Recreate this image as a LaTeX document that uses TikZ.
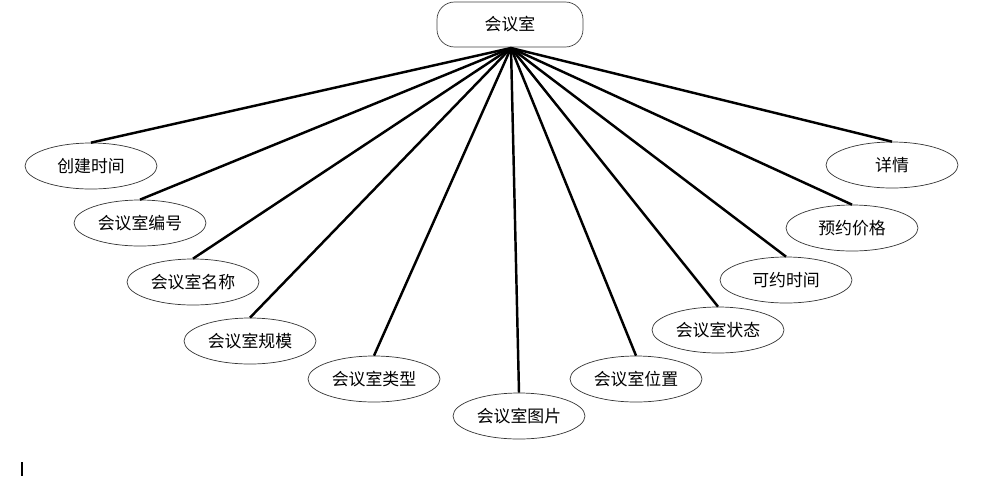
\documentclass[tikz,border=0pt]{standalone}
\usepackage{fontspec}
\newfontfamily\cjk{Noto Sans CJK SC}
\usepackage{tikz}
\usetikzlibrary{shapes.geometric, arrows.meta, positioning, fit, calc}

\begin{document}
\begin{tikzpicture}[
    x=0.02cm, y=-0.02cm,
    entity/.style={draw=black!75, rounded corners=10pt, minimum width=146*0.02cm,
                   minimum height=45*0.02cm, align=center, font=\cjk\fontsize{9.6}{11}\selectfont},
    attr/.style={draw=black!80, ellipse, inner sep=0pt, minimum width=132*0.02cm,
                 minimum height=46*0.02cm, font=\cjk\fontsize{9.6}{11}\selectfont},
    link/.style={line width=1.4pt}
  ]
    \useasboundingbox (0,0) rectangle (986,477);
    \node[entity] (room) at (510,24.5) {会议室};
    \node[attr] (ctime)  at (91,166)  {创建时间};
    \node[attr] (rno)    at (140,223) {会议室编号};
    \node[attr] (rname)  at (193,282) {会议室名称};
    \node[attr] (rsize)  at (250,341) {会议室规模};
    \node[attr] (rtype)  at (374,379) {会议室类型};
    \node[attr] (rpic)   at (519,416) {会议室图片};
    \node[attr] (rpos)   at (636,379) {会议室位置};
    \node[attr] (rstate) at (718,330) {会议室状态};
    \node[attr] (atime)  at (786,280) {可约时间};
    \node[attr] (price)  at (852,228) {预约价格};
    \node[attr] (detail) at (892,165) {详情};
    \coordinate (hub) at (511,48);
    \coordinate (cur1) at (22,462);
    \coordinate (cur2) at (22,476);
    \draw[link] (hub)--(ctime.north); \draw[link] (hub)--(rno.north);
    \draw[link] (hub)--(rname.north); \draw[link] (hub)--(rsize.north);
    \draw[link] (hub)--(rtype.north); \draw[link] (hub)--(rpic.north);
    \draw[link] (hub)--(rpos.north); \draw[link] (hub)--(rstate.north);
    \draw[link] (hub)--(atime.north); \draw[link] (hub)--(price.north);
    \draw[link] (hub)--(detail.north);
    \draw[line width=1.2pt] (cur1)--(cur2);
  \end{tikzpicture}
\end{document}
